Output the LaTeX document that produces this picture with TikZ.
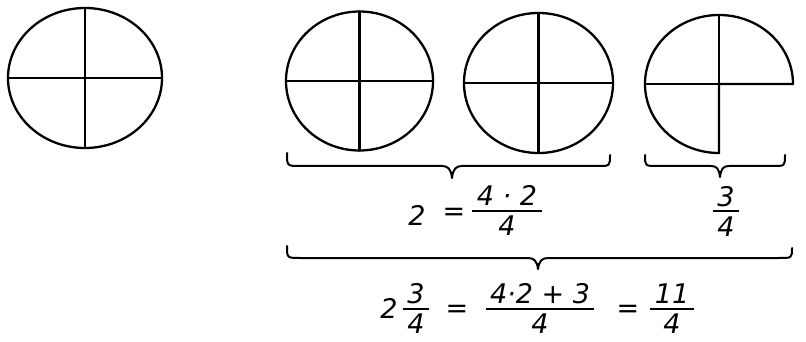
\documentclass[tikz,border=0pt]{standalone}
\usepackage{fontspec}
\setmainfont{DejaVu Sans}
\newcommand{\hfr}[2]{$\textstyle{\mbox{\,\rule[-2.5pt]{0pt}{2.5pt}#1\,}\above1.8pt\mbox{\,\rule{0pt}{22.5pt}#2\,}}$}
\begin{document}
\begin{tikzpicture}[x=1pt,y=-1pt,
  stroke/.style={line width=2.3pt,line join=round,line cap=round},
  brc/.style={line width=2pt,line join=round,line cap=round},
  lbl/.style={inner sep=0pt,font=\fontsize{27}{31}\selectfont\itshape},
  frc/.style={lbl,anchor=base}]
\path[use as bounding box] (0,0) rectangle (806,342);

% circle 1
\coordinate (c1) at (85,78);
\draw[stroke] (c1) ellipse[x radius=77,y radius=70];
\draw[stroke] (8,78) -- (162,78) (85,8) -- (85,148);

% circle 2
\coordinate (c2) at (359.5,81);
\draw[stroke] (c2) ellipse[x radius=73.5,y radius=69.5];
\draw[stroke] (286,81) -- (433,81) (359.5,11.5) -- (359.5,150.5);

% circle 3
\coordinate (c3) at (538.5,83);
\draw[stroke] (c3) ellipse[x radius=74.5,y radius=70];
\draw[stroke] (464,83) -- (613,83) (538.5,13) -- (538.5,153);

% three quarters
\coordinate (c4) at (719,84);
\draw[stroke] (719,153) arc[start angle=90,end angle=360,x radius=74,y radius=69] -- (c4) -- cycle;
\draw[stroke] (645,84) -- (c4) (719,15) -- (c4);

% brace 1
\draw[brc] (287,153) .. controls (287,166) and (287,166) .. (300,166) -- (442,166)
  .. controls (448,166) and (451,169) .. (452,178) .. controls (453,169) and (456,166) .. (462,166)
  -- (598,166) .. controls (610,166) and (610,166) .. (610,155);
% brace 2
\draw[brc] (645,155) .. controls (645,166) and (645,166) .. (657,166) -- (711,166)
  .. controls (717,166) and (719,169) .. (720,177) .. controls (721,169) and (723,166) .. (729,166)
  -- (773,166) .. controls (785,166) and (785,166) .. (785,155);
% brace 3
\draw[brc] (287,246) .. controls (287,258) and (287,258) .. (300,258) -- (528,258)
  .. controls (534,258) and (537,261) .. (538,269) .. controls (539,261) and (542,258) .. (548,258)
  -- (779,258) .. controls (792,258) and (792,258) .. (792,248);

% top equations
\node[lbl] (t2) at (417,215) {2};
\node[lbl] (teq) at (454,214) {=};
\node[frc] (tf) at (507,217) {\hfr{4 · 2}{4}};
\node[frc] (tq) at (726,217.5) {\hfr{3}{4}};

% bottom equation
\node[lbl] (b2) at (389,308) {2};
\node[frc] (bq) at (416,315) {\hfr{3}{4}};
\node[lbl] (beq1) at (457,311) {=};
\node[frc] (bf) at (540,315) {\hfr{4·2 + 3}{4}};
\node[lbl] (beq2) at (628,311) {=};
\node[frc] (b11) at (672,315) {\hfr{11}{4}};
\end{tikzpicture}
\end{document}
